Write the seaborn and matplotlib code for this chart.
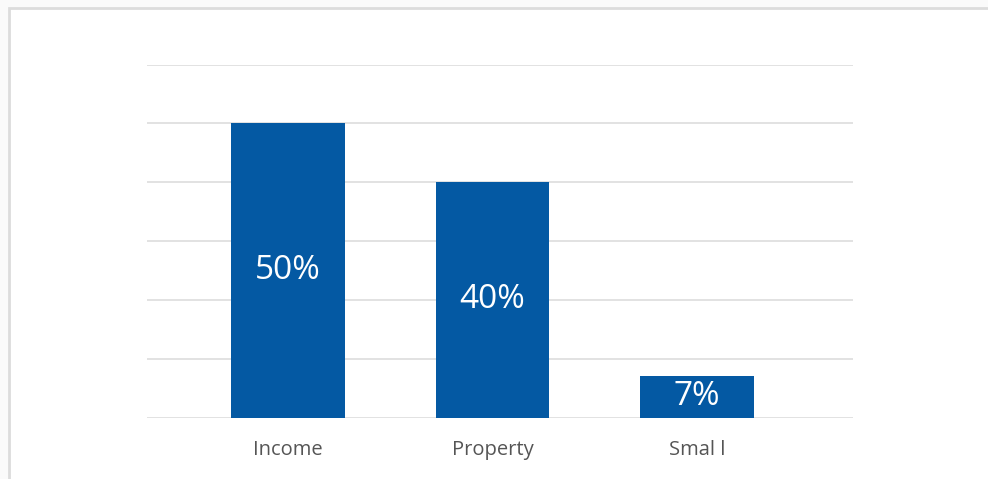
import matplotlib
matplotlib.use("Agg")
import matplotlib.pyplot as plt
from matplotlib.patches import Rectangle
import seaborn as sns
import pandas as pd

categories = ["Income", "Property", "Smal l"]
shares = [50, 40, 7]
value_labels = ["50%", "40%", "7%"]

sns.set_theme(style="white")
plt.rcParams["font.family"] = ["Open Sans", "DejaVu Sans"]

W, H = 988, 479
fig = plt.figure(figsize=(W / 100, H / 100), dpi=100)
fig.patch.set_facecolor("#fafafa")

# white panel with a light gray frame, running off the right and bottom edges
fig.patches.append(Rectangle((9 / W, -0.1), 1.2, 1.1 - 8 / H, transform=fig.transFigure,
                             facecolor="white", edgecolor="#dcdcdc", linewidth=2, zorder=-1))

ax = fig.add_axes([147 / W, 1 - 417.5 / H, (853 - 147) / W, (417.5 - 64.5) / H])
ax.set_zorder(2)
ax.set_facecolor("none")

df = pd.DataFrame({"category": categories, "share": shares})
sns.barplot(data=df, x="category", y="share", color="#0459a3", saturation=1,
            width=0.557, linewidth=0, ax=ax, zorder=3)

ax.set_ylim(0, 60)
ax.set_xlim(-0.69, 2.763)
ax.set_yticks(range(0, 61, 10))
ax.yaxis.grid(True, color="#dddddd", linewidth=1.2)
ax.set_axisbelow(True)
ax.tick_params(axis="y", left=False, labelleft=False)
ax.tick_params(axis="x", bottom=False, pad=10, labelsize=14.5, labelcolor="#555555")
for t in ax.get_xticklabels():
    t.set_fontweight("medium")
for s in ax.spines.values():
    s.set_visible(False)
ax.set_xlabel("")
ax.set_ylabel("")

for i, (v, lab) in enumerate(zip(shares, value_labels)):
    ax.text(i, v / 2, lab, ha="center", va="center", color="white", fontsize=24, zorder=4)

fig.savefig("out.png", dpi=100, facecolor=fig.get_facecolor())
